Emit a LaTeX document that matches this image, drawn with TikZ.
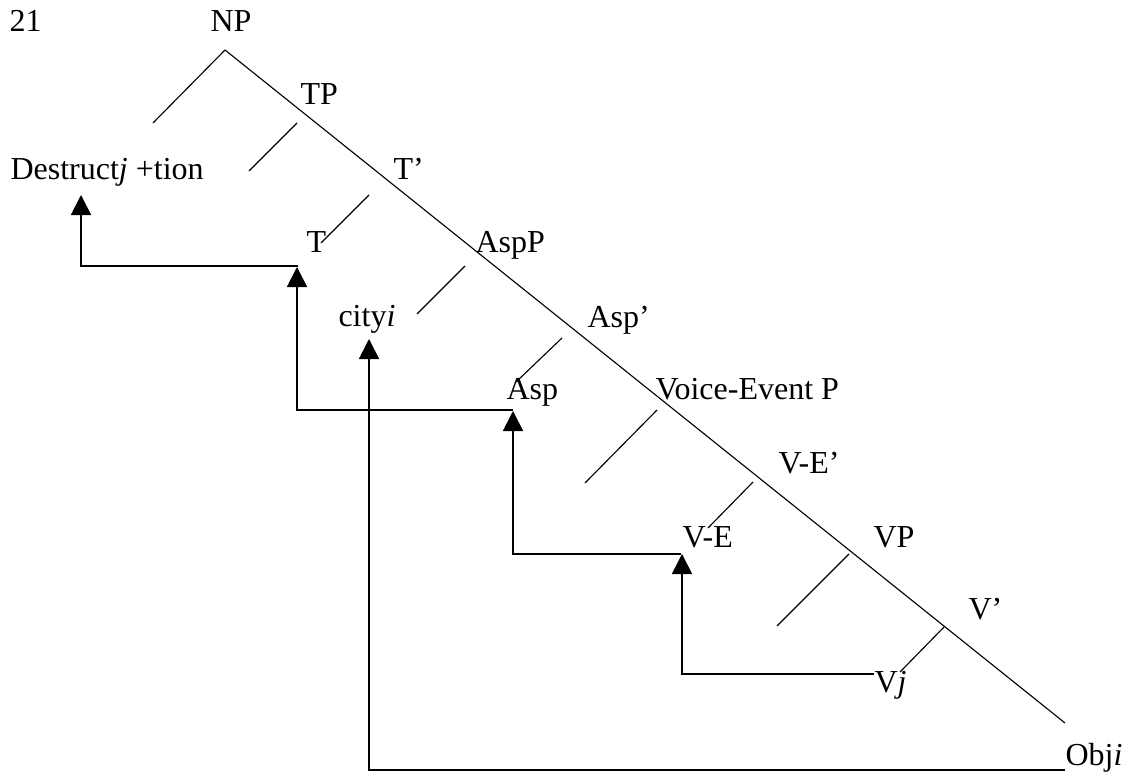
\documentclass[tikz,border=0pt]{standalone}
\usepackage{fontspec}
\setmainfont{Liberation Serif}
\usepackage{tikz}
\usetikzlibrary{arrows.meta}
\tikzset{%
    branch/.style={%
        draw, line width=0.45pt
    },
    move/.style={%
        draw, line width=0.7pt, -{Triangle[width=8pt, length=8pt]},
    },
    cat/.style={%
        anchor=base west, inner sep=0, font=\fontsize{12.8}{15}\selectfont,
    }
}

\begin{document}
\begin{tikzpicture}
        \def\xdist{0.01406}
        \def\ydist{-0.01406}

        \useasboundingbox (0,0) rectangle (1128*\xdist, 774*\ydist);

        % labels
        \node[cat] (num) at (9*\xdist, 32*\ydist) {21};
        \node[cat] (np) at (210*\xdist, 32*\ydist) {NP};
        \node[cat] (tp) at (300*\xdist, 105*\ydist) {TP};
        \node[cat] (destruct) at (10*\xdist, 180*\ydist) {Destruct\textit{j} +tion};
        \node[cat] (tbar) at (393*\xdist, 180*\ydist) {T’};
        \node[cat] (t) at (306*\xdist, 252*\ydist) {T};
        \node[cat] (aspp) at (475*\xdist, 252*\ydist) {AspP};
        \node[cat] (city) at (338*\xdist, 326*\ydist) {city\textit{i}};
        \node[cat] (aspbar) at (587*\xdist, 327*\ydist) {Asp’};
        \node[cat] (asp) at (506*\xdist, 399*\ydist) {Asp};
        \node[cat] (vep) at (655*\xdist, 399*\ydist) {Voice-Event P};
        \node[cat] (vebar) at (778*\xdist, 473*\ydist) {V-E’};
        \node[cat] (ve) at (682*\xdist, 547*\ydist) {V-E};
        \node[cat] (vp) at (873*\xdist, 547*\ydist) {VP};
        \node[cat] (vbar) at (968*\xdist, 619*\ydist) {V’};
        \node[cat] (vj) at (874*\xdist, 692*\ydist) {V\textit{j}};
        \node[cat] (obj) at (1065*\xdist, 765*\ydist) {Obj\textit{i}};

        % spine and branches
        \coordinate (spine-up) at (225*\xdist, 50*\ydist);
        \coordinate (spine-dn) at (1065*\xdist, 723*\ydist);
        \draw[branch] (spine-up) to (spine-dn);

        \foreach \n/\xa/\ya/\xb/\yb in {npl/225/50/153/123, tpl/297/123/249/171,
            tbarl/369/195/321/243, asppl/465/266/417/314, aspbarl/562/338/516/382,
            vepl/657/410/585/483, vebarl/753/482/708/528, vpl/849/554/777/626,
            vbarl/944/627/900/672}
        {
            \coordinate (\n-up) at (\xa*\xdist, \ya*\ydist);
            \coordinate (\n-dn) at (\xb*\xdist, \yb*\ydist);
            \draw[branch] (\n-up) to (\n-dn);
        }

        % movement
        \coordinate (t-foot) at (298*\xdist, 266*\ydist);
        \coordinate (destruct-tip) at (81*\xdist, 195*\ydist);
        \coordinate (asp-foot) at (513*\xdist, 410*\ydist);
        \coordinate (t-tip) at (297*\xdist, 267*\ydist);
        \coordinate (ve-foot) at (681*\xdist, 554*\ydist);
        \coordinate (asp-tip) at (513*\xdist, 411*\ydist);
        \coordinate (vj-foot) at (874*\xdist, 674*\ydist);
        \coordinate (ve-tip) at (682*\xdist, 554*\ydist);
        \coordinate (obj-foot) at (1065*\xdist, 770*\ydist);
        \coordinate (city-tip) at (369*\xdist, 339*\ydist);

        \draw[move] (t-foot) -| (destruct-tip);
        \draw[move] (asp-foot) -| (t-tip);
        \draw[move] (ve-foot) -| (asp-tip);
        \draw[move] (vj-foot) -| (ve-tip);
        \draw[move] (obj-foot) -| (city-tip);

\end{tikzpicture}
\end{document}
